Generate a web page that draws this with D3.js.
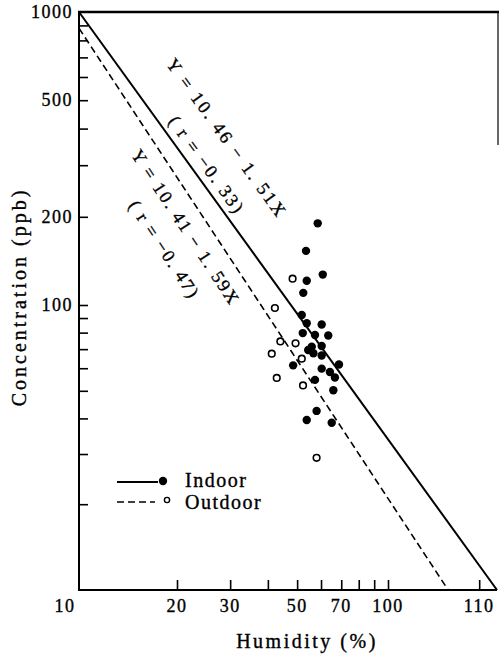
<!DOCTYPE html>
<html><head><meta charset="utf-8">
<script src="https://cdn.jsdelivr.net/npm/d3@7"></script>
<style>
html,body{margin:0;padding:0;background:#fff;}
svg{display:block;}
text{font-family:"Liberation Serif","Times New Roman",serif;fill:#000;stroke:#000;stroke-width:0.35px;}
</style>
</head><body>
<svg id="c" width="499" height="654"></svg>
<script>
// ---- data ----
const indoorX = [58.5,53.5,60.8,53.8,52.4,51.8,53.8,60.3,52.2,57.3,63.4,55.9,60.3,56.6,60.3,54.4,48.5,68.8,60.3,64.2,66.7,57.3,65.9,58.0,53.8,65.1];
const indoorY = [190,153,127,121,110,92.2,86.3,85.4,79.7,78.5,78.2,71.4,71.8,67.7,66.5,69.5,61.4,61.8,59.8,58.2,55.7,54.6,50.2,42.5,39.5,38.6];
const outdoorX = [48.3,42.2,44.0,49.4,41.2,51.8,42.8,52.3,58.0];
const outdoorY = [123,97.6,74.5,73.4,67.5,64.8,55.5,52.2,29.1];
const indoorLineX = [10,229];
const indoorLineY = [1000,10];
const outdoorLineX = [10,158];
const outdoorLineY = [880,10];
const xTickValues = [20,30,40,50,60,70,80,90,100,200];
const xLabelValues = [10,20,30,50,70,100,200];
const xLabelTexts = ["10","20","30","50","70","100","110"];
const yTickValues = [20,30,40,50,60,70,80,90,100,200,300,400,500,600,700,800,900];
const yLabelValues = [100,200,500,1000];
const yLabelTexts = ["100","200","500","1000"];
const indoorEq = ["Y = 10. 46 − 1. 51X","( r = −0. 33)"];
const outdoorEq = ["Y = 10. 41 − 1. 59X","( r = −0. 47)"];
const legendNames = ["Indoor","Outdoor"];
const xTitle = "Humidity (%)";
const yTitle = "Concentration (ppb)";

// ---- layout ----
const svg = d3.select("#c");
const x = d3.scaleLog().domain([10,20,100,229]).range([79,177,388,497]);
const y = d3.scaleLog().domain([10,100,1000]).range([590,305,12]);
const pLeft = x(10), pBottom = y(10), pTop = y(1000), pRight = 498;

// frame
svg.append("line").attr("x1",pLeft).attr("x2",pLeft).attr("y1",pTop-1).attr("y2",pBottom+1)
  .attr("stroke","#000").attr("stroke-width",2);
svg.append("line").attr("x1",pLeft-1).attr("x2",x(229)).attr("y1",pBottom).attr("y2",pBottom)
  .attr("stroke","#000").attr("stroke-width",2);
svg.append("line").attr("x1",pLeft-1).attr("x2",499).attr("y1",pTop).attr("y2",pTop)
  .attr("stroke","#000").attr("stroke-width",2.5);
svg.append("line").attr("x1",pRight).attr("x2",pRight).attr("y1",pTop).attr("y2",145)
  .attr("stroke","#000").attr("stroke-width",1.2);

// ticks via d3 axes (inward)
const gx = svg.append("g").attr("transform",`translate(0,${pBottom})`)
  .call(d3.axisBottom(x).tickValues(xTickValues).tickSize(-10).tickFormat(""));
gx.select(".domain").remove();
gx.selectAll(".tick line").attr("stroke","#000").attr("stroke-width",1.6);
const gy = svg.append("g").attr("transform",`translate(${pLeft},0)`)
  .call(d3.axisLeft(y).tickValues(yTickValues).tickSize(-9).tickFormat(""));
gy.select(".domain").remove();
gy.selectAll(".tick line").attr("stroke","#000").attr("stroke-width",1.6);

// tick labels
svg.selectAll(".xl").data(xLabelValues).join("text").attr("class","xl")
  .attr("x",(d)=> d===10 ? x(d)-14 : x(d)).attr("y",pBottom+22)
  .attr("text-anchor","middle").style("font-size","18px").style("letter-spacing","1.5px")
  .text((d,i)=>xLabelTexts[i]);
svg.selectAll(".yl").data(yLabelValues).join("text").attr("class","yl")
  .attr("x",pLeft-6).attr("y",d=>y(d)+6)
  .attr("text-anchor","end").style("font-size","18px").style("letter-spacing","1.5px")
  .text((d,i)=>yLabelTexts[i]);

// axis titles
svg.append("text").attr("x",307).attr("y",648).attr("text-anchor","middle")
  .style("font-size","20px").style("letter-spacing","2.5px").text(xTitle);
svg.append("text").attr("transform","translate(26,297) rotate(-90)").attr("text-anchor","middle")
  .style("font-size","20px").style("letter-spacing","3px").text(yTitle);

// regression lines
const line = d3.line().x(d=>x(d[0])).y(d=>y(d[1]));
svg.append("path").datum(d3.zip(indoorLineX,indoorLineY)).attr("d",line)
  .attr("fill","none").attr("stroke","#000").attr("stroke-width",2);
svg.append("path").datum(d3.zip(outdoorLineX,outdoorLineY)).attr("d",line)
  .attr("fill","none").attr("stroke","#000").attr("stroke-width",1.6).attr("stroke-dasharray","7,4");

// equation labels along lines
function lineLabels(lx, ly, texts, place){
  const p0=[x(lx[0]),y(ly[0])], p1=[x(lx[1]),y(ly[1])];
  const L=Math.hypot(p1[0]-p0[0],p1[1]-p0[1]);
  const u=[(p1[0]-p0[0])/L,(p1[1]-p0[1])/L], n=[u[1],-u[0]];
  const ang=Math.atan2(u[1],u[0])*180/Math.PI;
  texts.forEach((t,i)=>{
    const [a,p,ls]=place[i];
    const cx=p0[0]+u[0]*a+n[0]*p, cy=p0[1]+u[1]*a+n[1]*p;
    svg.append("text").attr("transform",`translate(${cx},${cy}) rotate(${ang})`)
      .attr("text-anchor","middle").attr("dy","0.35em")
      .style("font-size","18px").style("letter-spacing",ls+"px").text(t);
  });
}
lineLabels(indoorLineX,indoorLineY,indoorEq,[[189,46,2.5],[199,14,2.2]]);
lineLabels(outdoorLineX,outdoorLineY,outdoorEq,[[225,-20,2],[232,-50,2]]);

// points
svg.selectAll(".ind").data(d3.zip(indoorX,indoorY)).join("circle").attr("class","ind")
  .attr("cx",d=>x(d[0])).attr("cy",d=>y(d[1])).attr("r",4.2).attr("fill","#000");
svg.selectAll(".out").data(d3.zip(outdoorX,outdoorY)).join("circle").attr("class","out")
  .attr("cx",d=>x(d[0])).attr("cy",d=>y(d[1])).attr("r",3.3)
  .attr("fill","none").attr("stroke","#000").attr("stroke-width",1.6);

// legend
const lg = svg.append("g");
lg.append("line").attr("x1",117).attr("x2",158).attr("y1",482).attr("y2",482)
  .attr("stroke","#000").attr("stroke-width",2);
lg.append("circle").attr("cx",163).attr("cy",481).attr("r",4.2).attr("fill","#000");
lg.append("line").attr("x1",117).attr("x2",155).attr("y1",502).attr("y2",502)
  .attr("stroke","#000").attr("stroke-width",1.6).attr("stroke-dasharray","7,4");
lg.append("circle").attr("cx",167).attr("cy",500).attr("r",2.6)
  .attr("fill","none").attr("stroke","#000").attr("stroke-width",1.4);
lg.selectAll(".lt").data(legendNames).join("text").attr("class","lt")
  .attr("x",185).attr("y",(d,i)=>487+i*22)
  .style("font-size","20px").style("letter-spacing","1.5px").text(d=>d);
</script>
</body></html>
